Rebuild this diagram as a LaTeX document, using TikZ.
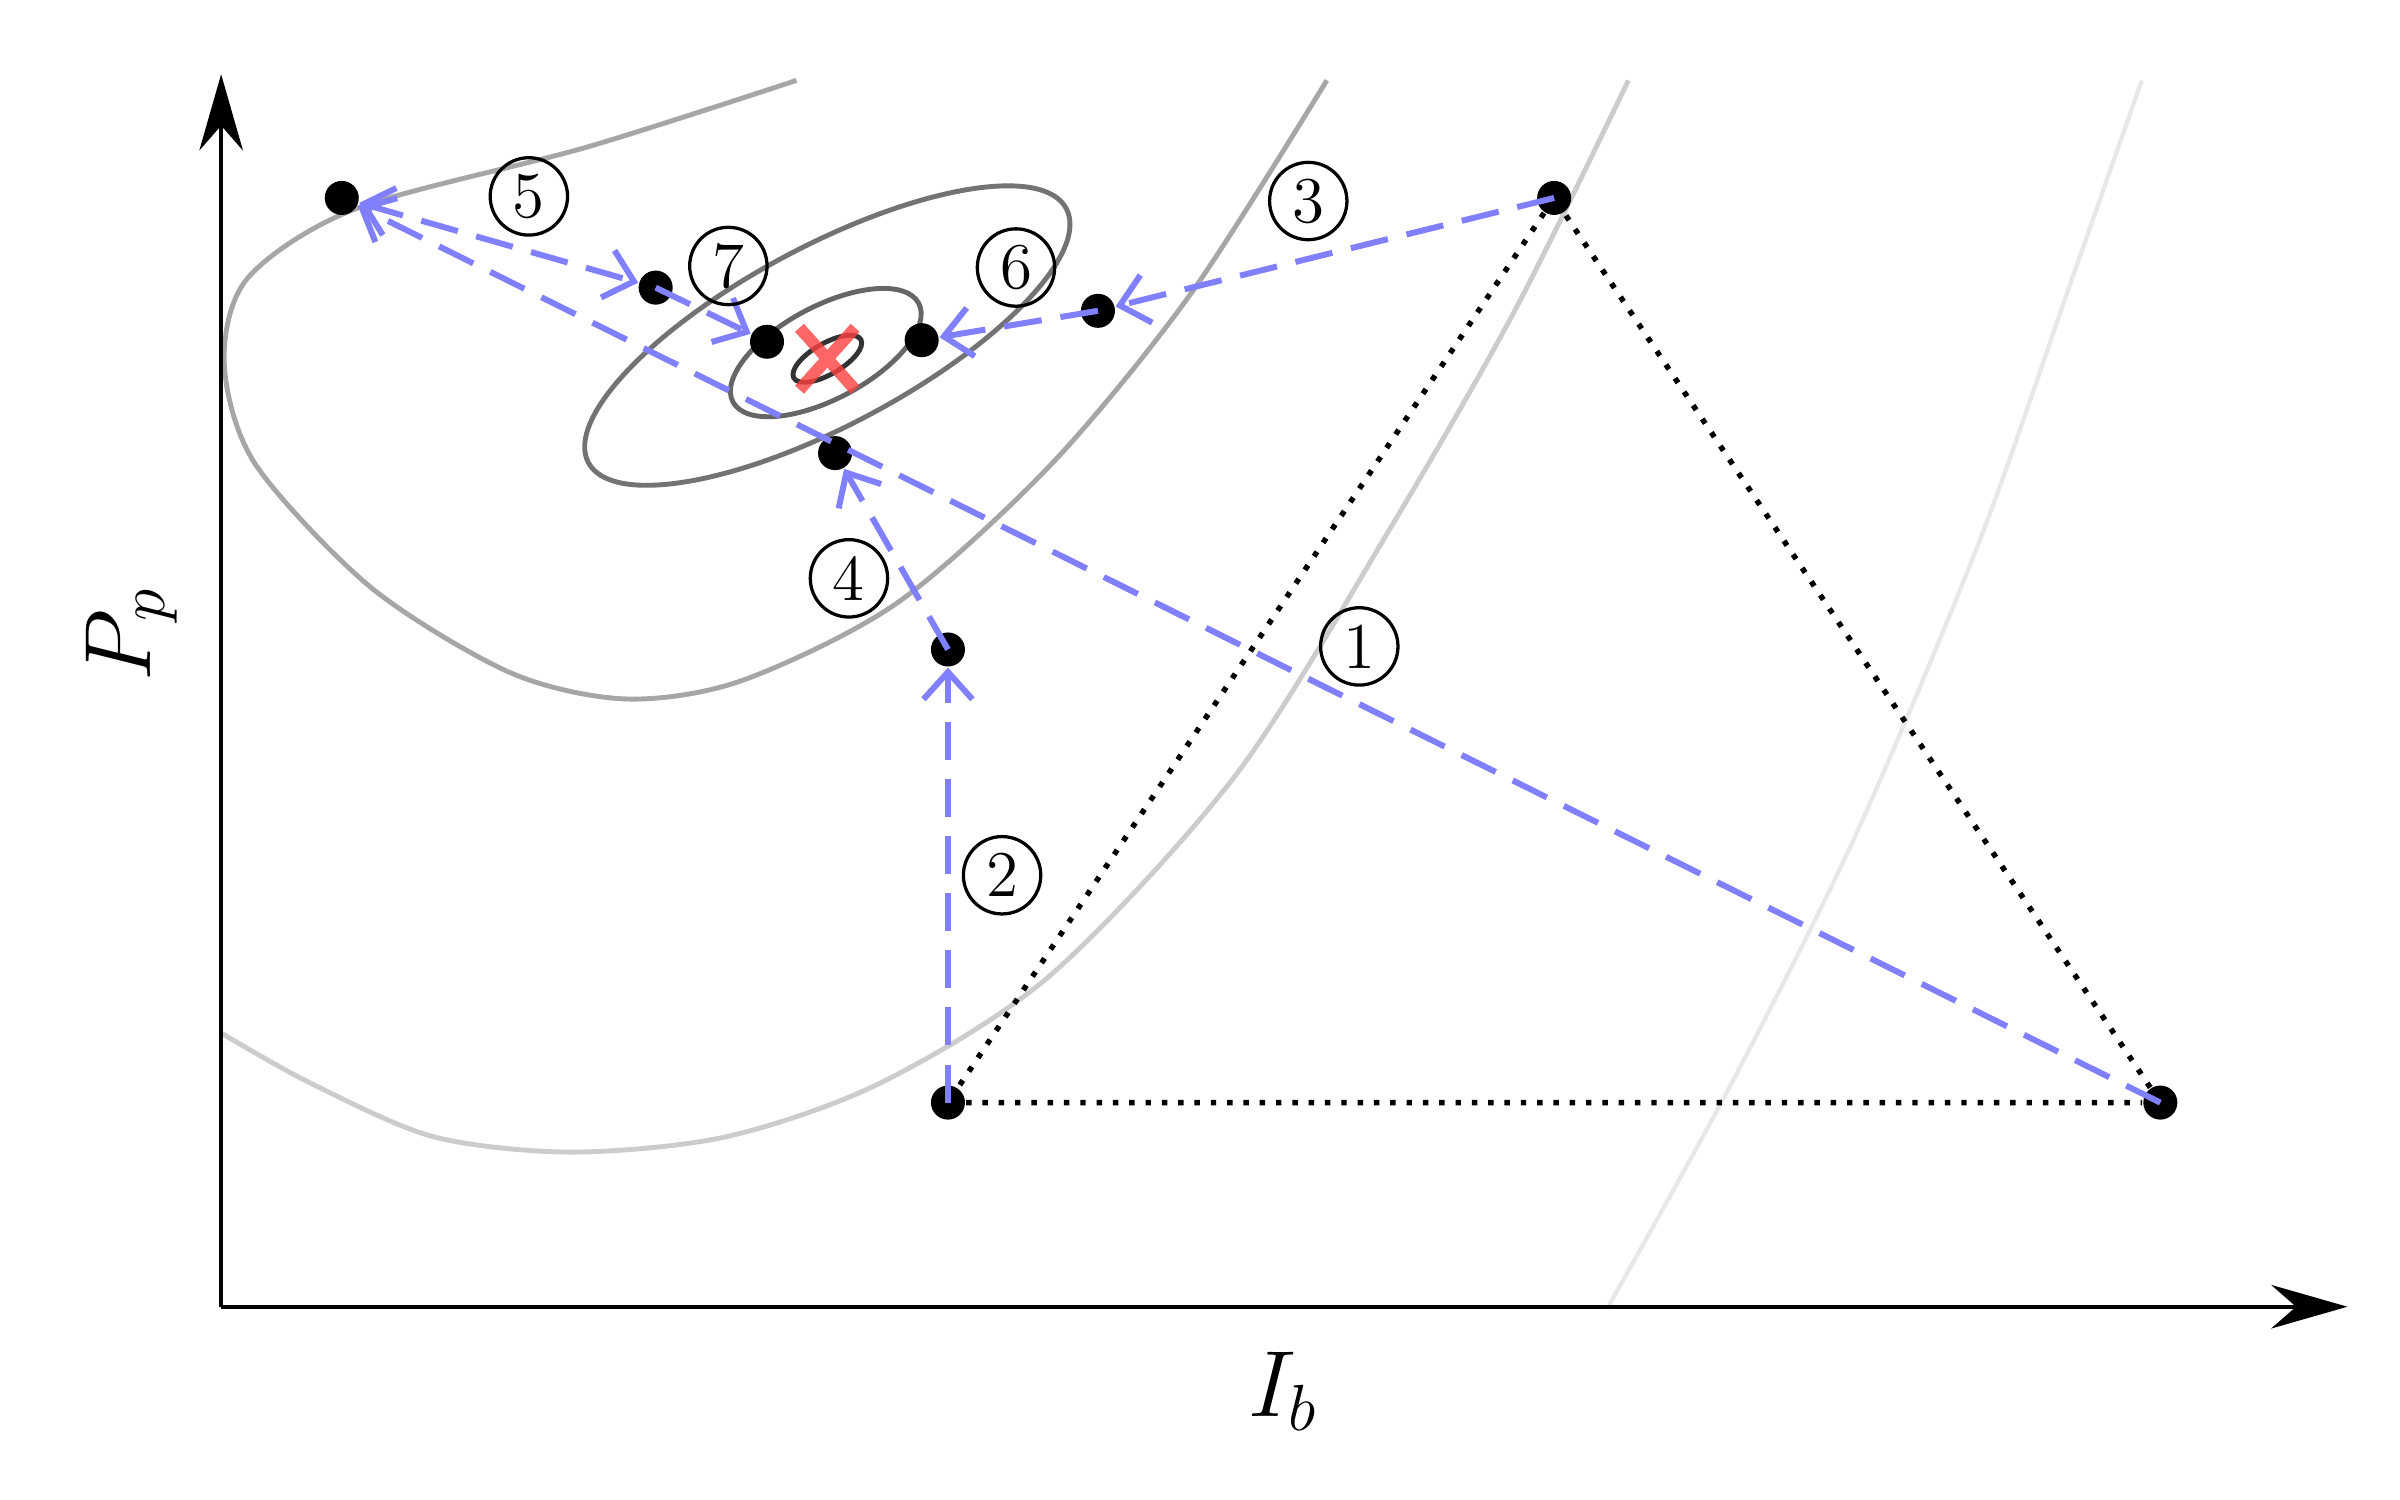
\documentclass[tikz,border=0pt]{standalone}
\usetikzlibrary{arrows.meta}
\begin{document}
\begin{tikzpicture}[x=0.01cm,y=-0.01cm,
  blu/.style={draw={rgb,1:red,0.5;green,0.5;blue,1},line width=1.1pt,dash pattern=on 7pt off 3.5pt,-{Straight Barb[length=5pt,width=9pt,line width=1.1pt]}},
  dot/.style={circle,fill=black,inner sep=0pt,minimum size=0.22cm},
  lab/.style={circle,draw,line width=0.6pt,inner sep=0pt,minimum size=0.5cm,font=\large}]
\useasboundingbox (0,0) rectangle (1552,970);
% contours
\draw[black!9,line width=0.8pt] plot[smooth] coordinates {(1040,845)(1120,700)(1200,540)(1280,350)(1340,180)(1385,52)};
\draw[black!20,line width=0.9pt] plot[smooth] coordinates {(143,668)(200,700)(280,735)(370,745)(470,735)(570,700)(680,630)(800,500)(900,340)(980,200)(1053,52)};
\draw[black!35,line width=0.9pt] plot[smooth] coordinates {(515,52)(380,95)(230,135)(160,180)(145,235)(165,300)(240,380)(330,435)(405,452)(480,440)(580,390)(680,300)(770,190)(858,52)};
\draw[black!55,line width=0.9pt] (535,217) ellipse[x radius=175,y radius=58,rotate=28];
\draw[black!60,line width=0.9pt] (534,228) ellipse[x radius=68,y radius=30,rotate=28];
\draw[black!80,line width=0.9pt] (535,232) ellipse[x radius=25,y radius=10,rotate=30];
% red X
\draw[red!75,opacity=0.8,line width=2.2pt] (517,212) -- (553,252) (517,252) -- (553,212);
% axes
\coordinate (O) at (143,845);
\coordinate (Xe) at (1518,845);
\coordinate (Ye) at (143,48);
\draw[line width=0.7pt,-{Stealth[length=14pt,width=8pt]}] (O) -- (Xe);
\draw[line width=0.7pt,-{Stealth[length=14pt,width=8pt]}] (O) -- (Ye);
\node[font=\LARGE,rotate=90] (yl) at (85,410) {$P_p$};
\node[font=\LARGE] (xl) at (830,900) {$I_b$};
% points
\node[dot] (A) at (613,713) {};
\node[dot] (B) at (1397,713) {};
\node[dot] (C) at (1005,128) {};
\node[dot] (p2) at (613,420) {};
\node[dot] (p4) at (540,293) {};
\node[dot] (p1) at (221,128) {};
\node[dot] (p5) at (424,186) {};
\node[dot] (p3) at (710,201) {};
\node[dot] (p6) at (596,220) {};
\node[dot] (p7) at (496,221) {};
% triangle
\draw[line width=1pt,dotted] (A) -- (B) -- (C) -- (A);
% steps
\draw[blu] (B.center) -- (p1);
\draw[blu] (A.center) -- (p2);
\draw[blu] (C.center) -- (p3);
\draw[blu] (p2.center) -- (p4);
\draw[blu,{Straight Barb[length=5pt,width=9pt,line width=1.1pt]}-{Straight Barb[length=5pt,width=9pt,line width=1.1pt]}] (p1) -- (p5);
\draw[blu] (p3.center) -- (p6);
\draw[blu] (p5.center) -- (p7);
% labels
\node[lab] (l1) at (879,418) {1};
\node[lab] (l2) at (648,566) {2};
\node[lab] (l3) at (846,130) {3};
\node[lab] (l4) at (549,374) {4};
\node[lab] (l5) at (342,127) {5};
\node[lab] (l6) at (657,173) {6};
\node[lab] (l7) at (471,172) {7};
\end{tikzpicture}
\end{document}
